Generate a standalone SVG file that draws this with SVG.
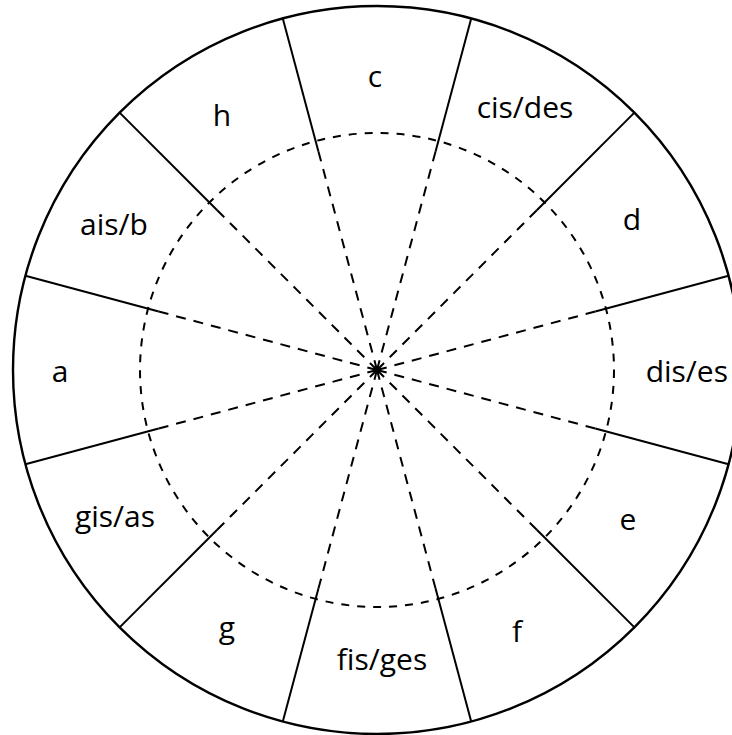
<svg xmlns="http://www.w3.org/2000/svg" width="732" height="735" viewBox="0 0 732 735">
<style>
.outer{fill:none;stroke:#000;stroke-width:2.4}
.solid{stroke:#000;stroke-width:2;fill:none}
.dash{stroke:#000;stroke-width:2;fill:none;stroke-dasharray:10 8}
.dcirc{stroke:#000;stroke-width:2;fill:none;stroke-dasharray:8 8}
.lbl{font-family:"Open Sans","Lato","DejaVu Sans",sans-serif;font-size:30px;fill:#000;text-anchor:middle}
</style>
<rect width="732" height="735" fill="#fff"/>
<g id="outer-circle"><circle class="outer" cx="377" cy="370" r="364"/></g>
<g id="inner-circle"><circle class="dcirc" cx="377" cy="370" r="237"/></g>
<g id="connectors">
<line class="solid" x1="595.3" y1="428.5" x2="728.6" y2="464.2"/>
<line class="solid" x1="536.8" y1="529.8" x2="634.4" y2="627.4"/>
<line class="solid" x1="435.5" y1="588.3" x2="471.2" y2="721.6"/>
<line class="solid" x1="318.5" y1="588.3" x2="282.8" y2="721.6"/>
<line class="solid" x1="217.2" y1="529.8" x2="119.6" y2="627.4"/>
<line class="solid" x1="158.7" y1="428.5" x2="25.4" y2="464.2"/>
<line class="solid" x1="158.7" y1="311.5" x2="25.4" y2="275.8"/>
<line class="solid" x1="217.2" y1="210.2" x2="119.6" y2="112.6"/>
<line class="solid" x1="318.5" y1="151.7" x2="282.8" y2="18.4"/>
<line class="solid" x1="435.5" y1="151.7" x2="471.2" y2="18.4"/>
<line class="solid" x1="536.8" y1="210.2" x2="634.4" y2="112.6"/>
<line class="solid" x1="595.3" y1="311.5" x2="728.6" y2="275.8"/>
<line class="dash" x1="377" y1="370" x2="595.3" y2="428.5"/>
<line class="dash" x1="377" y1="370" x2="536.8" y2="529.8"/>
<line class="dash" x1="377" y1="370" x2="435.5" y2="588.3"/>
<line class="dash" x1="377" y1="370" x2="318.5" y2="588.3"/>
<line class="dash" x1="377" y1="370" x2="217.2" y2="529.8"/>
<line class="dash" x1="377" y1="370" x2="158.7" y2="428.5"/>
<line class="dash" x1="377" y1="370" x2="158.7" y2="311.5"/>
<line class="dash" x1="377" y1="370" x2="217.2" y2="210.2"/>
<line class="dash" x1="377" y1="370" x2="318.5" y2="151.7"/>
<line class="dash" x1="377" y1="370" x2="435.5" y2="151.7"/>
<line class="dash" x1="377" y1="370" x2="536.8" y2="210.2"/>
<line class="dash" x1="377" y1="370" x2="595.3" y2="311.5"/>
</g>
<g id="c"><text class="lbl" x="375" y="87">c</text></g>
<g id="cis-des"><text class="lbl" x="525" y="118">cis/des</text></g>
<g id="d"><text class="lbl" x="632" y="230">d</text></g>
<g id="dis-es"><text class="lbl" x="728" y="382" style="text-anchor:end">dis/es</text></g>
<g id="e"><text class="lbl" x="628" y="530">e</text></g>
<g id="f"><text class="lbl" x="517" y="642">f</text></g>
<g id="fis-ges"><text class="lbl" x="382" y="670">fis/ges</text></g>
<g id="g"><text class="lbl" x="227" y="638">g</text></g>
<g id="gis-as"><text class="lbl" x="115" y="527">gis/as</text></g>
<g id="a"><text class="lbl" x="60" y="382">a</text></g>
<g id="ais-b"><text class="lbl" x="114" y="235">ais/b</text></g>
<g id="h"><text class="lbl" x="222" y="126">h</text></g>
</svg>
